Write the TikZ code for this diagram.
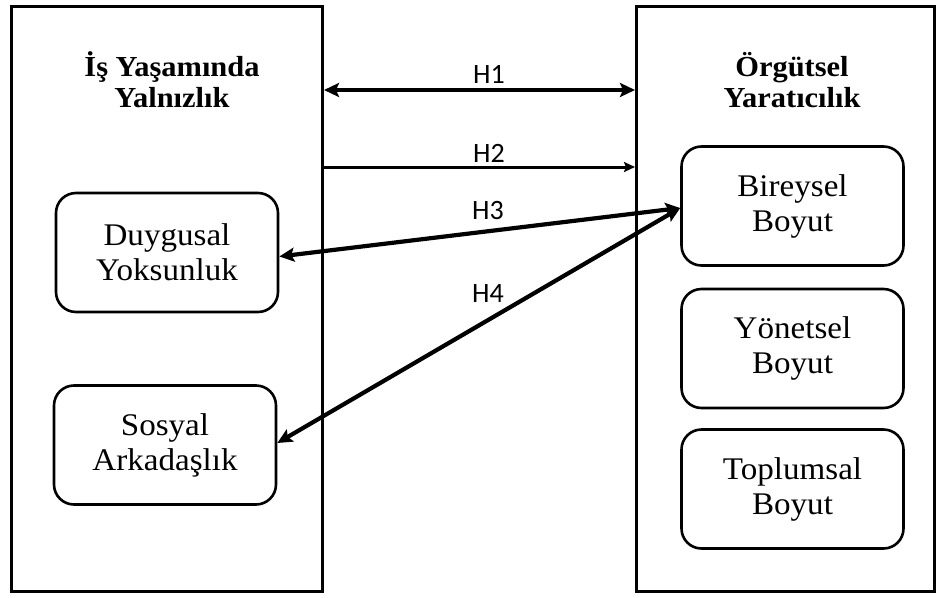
\documentclass[tikz,border=0pt]{standalone}
\usepackage{fontspec}
\setmainfont{Liberation Serif}[FakeStretch=1.05]
\newfontfamily\hfont{Carlito}
\usetikzlibrary{arrows.meta}
\begin{document}
\begin{tikzpicture}[x=1pt,y=-1pt,
  bigbox/.style={draw, line width=3pt, inner sep=0pt},
  subbox/.style={draw, line width=2.6pt, rounded corners=20pt, minimum width=222pt, minimum height=119pt, align=center, inner sep=0pt, font=\fontsize{31.5}{35}\selectfont},
  title/.style={align=center, font=\bfseries\fontsize{29}{31}\selectfont},
  hlab/.style={font=\hfont\fontsize{28}{30}\selectfont},
  thick arrow/.style={line width=4.2pt, {Stealth[length=15pt,width=14pt,inset=3pt]}-{Stealth[length=15pt,width=14pt,inset=3pt]}},
  thin arrow/.style={line width=3pt, -{Stealth[length=11pt,width=10pt,inset=2pt]}}
]
\useasboundingbox (0,0) rectangle (939,597);
% big boxes
\node[bigbox, minimum width=311pt, minimum height=585pt] (L) at (167,298.5) {};
\node[bigbox, minimum width=298pt, minimum height=585pt] (R) at (785.5,298.5) {};
% titles
\node[title] (Lt) at (172,80) {İş Yaşamında\\Yalnızlık};
\node[title] (Rt) at (792,80) {Örgütsel\\Yaratıcılık};
% sub boxes
\node[subbox] (D) at (167,252.5) {Duygusal\\Yoksunluk};
\node[subbox] (S) at (165,445) {Sosyal\\Arkadaşlık};
\node[subbox] (B) at (792.5,206) {Bireysel\\Boyut};
\node[subbox] (Y) at (792.5,348.5) {Yönetsel\\Boyut};
\node[subbox] (T) at (792.5,489) {Toplumsal\\Boyut};
% connector end points on the big boxes
\coordinate (h1a) at (L.east |- 0,90);
\coordinate (h1b) at (R.west |- 0,90);
\coordinate (h2a) at (L.east |- 0,167);
\coordinate (h2b) at (R.west |- 0,167);
% connectors
\draw[thick arrow] (h1a) -- (h1b);
\draw[thin arrow] (h2a) -- (h2b);
\draw[thick arrow] ([yshift=-4pt]D.east) -- ([yshift=-2pt]B.west);
\draw[thick arrow] ([yshift=2pt]S.east) -- ([yshift=-2pt]B.west);
% labels
\node[hlab] (H1) at (489,74) {H1};
\node[hlab] (H2) at (489,153) {H2};
\node[hlab] (H3) at (488,211) {H3};
\node[hlab] (H4) at (488,294) {H4};
\end{tikzpicture}
\end{document}
